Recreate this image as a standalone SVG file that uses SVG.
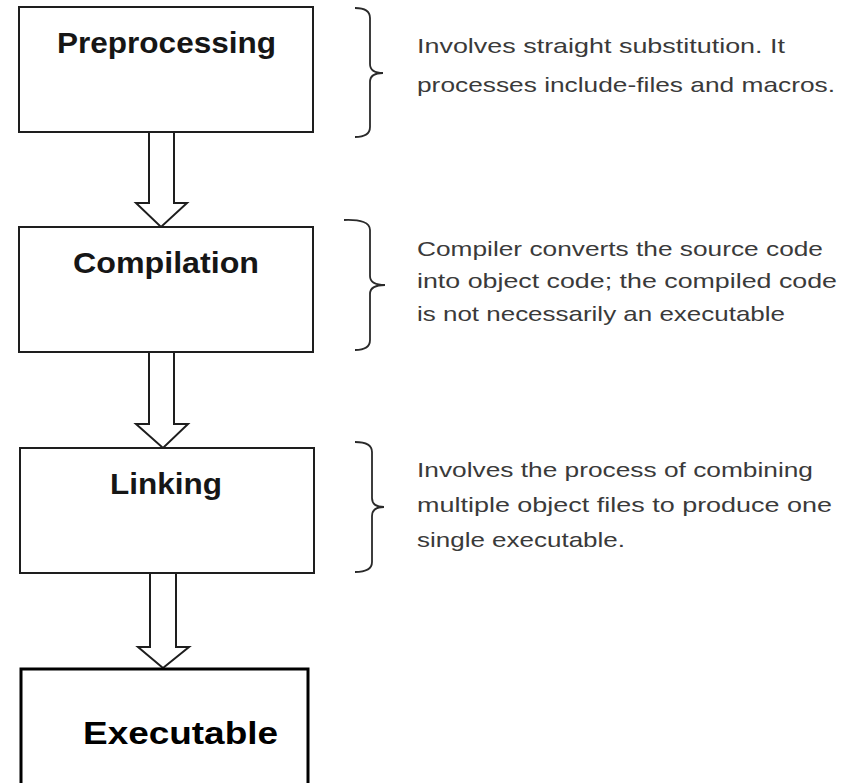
<svg xmlns="http://www.w3.org/2000/svg" width="868" height="783" viewBox="0 0 868 783">
<style>
.box{fill:#fff;stroke:#1e1e1e;stroke-width:2}
.exe{fill:#fff;stroke:#000;stroke-width:3}
.lbl{font-family:"Liberation Sans",Arial,sans-serif;font-weight:bold;font-size:30px;fill:#161616}
.exl{font-family:"Liberation Sans",Arial,sans-serif;font-weight:bold;font-size:31px;fill:#000}
.desc{font-family:"Liberation Sans",Arial,sans-serif;font-size:21px;fill:#3a3a3a}
.arrow{fill:#fff;stroke:#1e1e1e;stroke-width:2;stroke-linejoin:miter}
.brace{fill:none;stroke:#2a2a2a;stroke-width:1.8}
</style>
<rect width="868" height="783" fill="#fff"/>
<g id="connectors">
<polygon class="arrow" points="149,132 149,203 136,203 161,227 187,203 174,203 174,132"/>
<polygon class="arrow" points="149,352 149,424 136,424 163,448 188,424 174,424 174,352"/>
<polygon class="arrow" points="150,573 150,647 138,647 163,668 189,647 176,647 176,573"/>
</g>
<g id="preprocessing">
<rect class="box" x="19" y="7" width="294" height="125"/>
<text class="lbl" x="57" y="53" textLength="219" lengthAdjust="spacingAndGlyphs">Preprocessing</text>
</g>
<g id="compilation">
<rect class="box" x="19" y="227" width="294" height="125"/>
<text class="lbl" x="73" y="273" textLength="186" lengthAdjust="spacingAndGlyphs">Compilation</text>
</g>
<g id="linking">
<rect class="box" x="20" y="448" width="294" height="125"/>
<text class="lbl" x="110" y="494" textLength="112" lengthAdjust="spacingAndGlyphs">Linking</text>
</g>
<g id="executable">
<rect class="exe" x="21" y="669" width="287" height="130"/>
<text class="exl" x="83" y="744" textLength="195" lengthAdjust="spacingAndGlyphs">Executable</text>
</g>
<g id="note-preprocessing">
<path class="brace" d="M355,8 Q370,8 370,18 L370,64 Q370,73 383,73 Q370,73 370,82 L370,127 Q370,137 355,137"/>
<text class="desc" x="417" y="53" textLength="368" lengthAdjust="spacingAndGlyphs">Involves straight substitution. It</text>
<text class="desc" x="417" y="92" textLength="418" lengthAdjust="spacingAndGlyphs">processes include-files and macros.</text>
</g>
<g id="note-compilation">
<path class="brace" d="M344,220 Q370,219 370,230 L370,276 Q370,285 385,285 Q370,285 370,294 L370,340 Q370,350 355,350"/>
<text class="desc" x="417" y="256" textLength="406" lengthAdjust="spacingAndGlyphs">Compiler converts the source code</text>
<text class="desc" x="417" y="288" textLength="420" lengthAdjust="spacingAndGlyphs">into object code; the compiled code</text>
<text class="desc" x="417" y="321" textLength="368" lengthAdjust="spacingAndGlyphs">is not necessarily an executable</text>
</g>
<g id="note-linking">
<path class="brace" d="M355,442 Q372,442 372,452 L372,498 Q372,507 384,507 Q372,507 372,516 L372,562 Q372,572 355,572"/>
<text class="desc" x="417" y="477" textLength="396" lengthAdjust="spacingAndGlyphs">Involves the process of combining</text>
<text class="desc" x="417" y="512" textLength="415" lengthAdjust="spacingAndGlyphs">multiple object files to produce one</text>
<text class="desc" x="417" y="547" textLength="208" lengthAdjust="spacingAndGlyphs">single executable.</text>
</g>
</svg>
